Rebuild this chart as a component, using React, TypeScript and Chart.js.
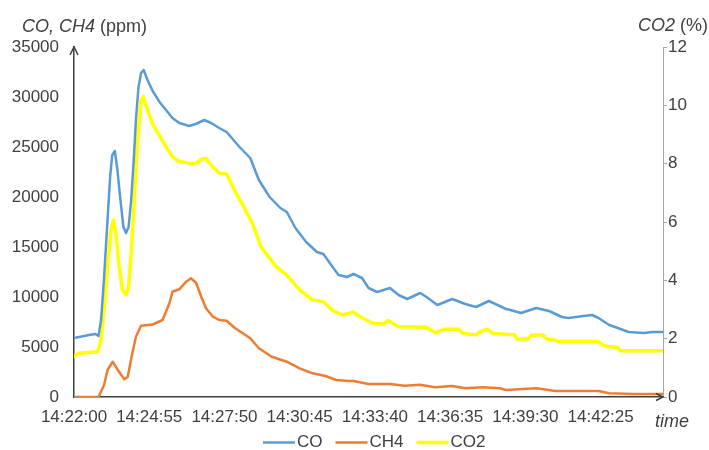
import React, { useEffect, useRef } from 'react';
import { Chart, registerables } from 'chart.js';

Chart.register(...registerables);

// X axis: seconds elapsed since 14:22:00
const xMax = 1370;
const xTickSeconds = [0, 175, 350, 525, 700, 875, 1050, 1225];
const xTickLabels = ['14:22:00', '14:24:55', '14:27:50', '14:30:45', '14:33:40', '14:36:35', '14:39:30', '14:42:25'];

const leftTicks = [0, 5000, 10000, 15000, 20000, 25000, 30000, 35000];
const rightTicks = [0, 2, 4, 6, 8, 10, 12];

// CO (ppm)
const coTime = [0, 35, 50, 57, 63, 70, 78, 84, 89, 95, 101, 108, 115, 121, 127, 133, 139, 144, 150, 156, 162, 171, 183, 199, 214, 229, 245, 268, 283, 303, 319, 338, 355, 385, 410, 430, 455, 480, 495, 515, 540, 565, 580, 595, 615, 635, 650, 670, 685, 705, 735, 755, 775, 805, 820, 845, 880, 910, 935, 965, 985, 1005, 1015, 1040, 1075, 1105, 1135, 1150, 1185, 1205, 1220, 1245, 1265, 1290, 1325, 1345, 1370];
const coValues = [5900, 6200, 6300, 6100, 7700, 12000, 17700, 22000, 24200, 24600, 22700, 19700, 17000, 16400, 17000, 19700, 23700, 27700, 31000, 32400, 32700, 31700, 30600, 29500, 28700, 27900, 27400, 27100, 27300, 27700, 27400, 26900, 26500, 25000, 23900, 21700, 20000, 18900, 18500, 16900, 15500, 14500, 14300, 13400, 12200, 12000, 12300, 11900, 10900, 10500, 10900, 10200, 9800, 10400, 10000, 9200, 9800, 9300, 9000, 9600, 9200, 8800, 8700, 8400, 8900, 8600, 8000, 7900, 8100, 8200, 7900, 7200, 6900, 6500, 6400, 6500, 6500];

// CH4 (ppm)
const ch4Time = [0, 57, 70, 78, 90, 102, 117, 125, 134, 144, 156, 183, 206, 222, 229, 245, 261, 272, 284, 296, 307, 323, 338, 355, 375, 410, 430, 460, 495, 525, 555, 585, 610, 640, 650, 685, 735, 770, 805, 840, 880, 910, 950, 990, 1005, 1035, 1075, 1120, 1220, 1245, 1300, 1370];
const ch4Values = [0, 0, 1200, 2700, 3530, 2700, 1770, 2030, 4030, 6030, 7130, 7250, 7700, 9370, 10530, 10770, 11530, 11870, 11430, 10030, 8870, 8030, 7700, 7630, 6870, 5870, 4870, 4030, 3530, 2870, 2370, 2100, 1700, 1600, 1600, 1300, 1300, 1130, 1230, 970, 1100, 870, 970, 870, 700, 770, 870, 600, 600, 370, 300, 300];

// CO2 (%)
const co2Time = [0, 10, 55, 63, 70, 78, 86, 92, 98, 105, 113, 121, 127, 133, 139, 144, 150, 156, 161, 171, 183, 198, 214, 229, 241, 268, 284, 296, 307, 319, 338, 355, 375, 395, 415, 435, 470, 495, 525, 555, 580, 600, 625, 640, 650, 665, 695, 720, 730, 755, 820, 840, 860, 895, 905, 935, 945, 960, 975, 1025, 1030, 1055, 1065, 1090, 1100, 1120, 1125, 1220, 1230, 1245, 1265, 1270, 1370];
const co2Values = [1.38, 1.5, 1.55, 1.95, 2.98, 4.47, 5.72, 6.07, 5.5, 4.47, 3.67, 3.5, 3.78, 4.93, 6.41, 7.78, 9.15, 10.18, 10.29, 9.84, 9.36, 8.98, 8.58, 8.24, 8.1, 8.01, 8.01, 8.15, 8.18, 7.95, 7.67, 7.65, 7.04, 6.52, 5.95, 5.15, 4.47, 4.18, 3.67, 3.33, 3.27, 2.98, 2.81, 2.87, 2.92, 2.75, 2.53, 2.5, 2.62, 2.41, 2.39, 2.2, 2.32, 2.32, 2.18, 2.13, 2.24, 2.32, 2.18, 2.13, 1.99, 1.99, 2.13, 2.13, 1.99, 1.95, 1.9, 1.9, 1.78, 1.72, 1.7, 1.59, 1.59];

const seriesNames = ['CO', 'CH4', 'CO2'];
const seriesColors = ['#5B9BD5', '#ED7D31', '#FFFF00'];
const seriesWidths = [2.5, 2.5, 3.5];

const FONT = '"Liberation Sans", Arial, sans-serif';
const TEXT = '#404040';

const pts = (t: number[], v: number[]) => t.map((x, i) => ({ x, y: v[i] }));

const decorPlugin = {
  id: 'decor',
  afterDraw(chart: any) {
    const { ctx, chartArea } = chart;
    const { left, right, top, bottom } = chartArea;
    ctx.save();
    // arrows
    ctx.strokeStyle = '#404040';
    ctx.lineWidth = 1.5;
    ctx.lineJoin = 'miter';
    ctx.beginPath();
    ctx.moveTo(left - 4, top + 8);
    ctx.lineTo(left, top);
    ctx.lineTo(left + 4, top + 8);
    ctx.stroke();
    ctx.beginPath();
    ctx.moveTo(right - 7, bottom - 3.5);
    ctx.lineTo(right, bottom);
    ctx.lineTo(right - 7, bottom + 3.5);
    ctx.stroke();

    // axis titles
    ctx.fillStyle = TEXT;
    ctx.textBaseline = 'middle';
    ctx.textAlign = 'left';
    ctx.font = 'italic 18px ' + FONT;
    ctx.fillText('CO, CH4', 22, 27);
    let w = ctx.measureText('CO, CH4').width;
    ctx.font = '18px ' + FONT;
    ctx.fillText(' (ppm)', 22 + w, 27);

    ctx.font = 'italic 18px ' + FONT;
    ctx.fillText('CO2', 638, 26);
    w = ctx.measureText('CO2').width;
    ctx.font = '18px ' + FONT;
    ctx.fillText(' (%)', 638 + w, 26);

    ctx.font = 'italic 18px ' + FONT;
    ctx.textBaseline = 'alphabetic';
    ctx.fillText('time', 655, 427);

    // legend
    ctx.font = '17px ' + FONT;
    ctx.textBaseline = 'middle';
    let x = 263;
    const y = 442.5;
    chart.data.datasets.forEach((ds: any) => {
      ctx.strokeStyle = ds.borderColor;
      ctx.lineWidth = ds.borderWidth;
      ctx.lineCap = 'butt';
      ctx.beginPath();
      ctx.moveTo(x, y);
      ctx.lineTo(x + 32, y);
      ctx.stroke();
      ctx.fillStyle = TEXT;
      ctx.fillText(ds.label, x + 34, y);
      x = x + 34 + ctx.measureText(ds.label).width + 13;
    });
    ctx.restore();
  },
};

export default function App() {
  const ref = useRef<HTMLCanvasElement>(null);
  useEffect(() => {
    if (!ref.current) return;
    Chart.defaults.font.family = FONT;
    Chart.defaults.color = TEXT;
    const chart = new Chart(ref.current, {
      type: 'line',
      data: {
        datasets: [
          { label: seriesNames[0], data: pts(coTime, coValues), borderColor: seriesColors[0], backgroundColor: seriesColors[0], borderWidth: seriesWidths[0], yAxisID: 'y' },
          { label: seriesNames[1], data: pts(ch4Time, ch4Values), borderColor: seriesColors[1], backgroundColor: seriesColors[1], borderWidth: seriesWidths[1], yAxisID: 'y' },
          { label: seriesNames[2], data: pts(co2Time, co2Values), borderColor: seriesColors[2], backgroundColor: seriesColors[2], borderWidth: seriesWidths[2], yAxisID: 'y1' },
        ],
      },
      options: {
        animation: false,
        responsive: false,
        maintainAspectRatio: false,
        layout: { padding: { top: 47, left: 0, right: 0, bottom: 0 } },
        elements: {
          point: { radius: 0, hoverRadius: 0 },
          line: { tension: 0, borderJoinStyle: 'round', borderCapStyle: 'round' },
        },
        plugins: { legend: { display: false }, tooltip: { enabled: false } },
        scales: {
          x: {
            type: 'linear',
            min: 0,
            max: xMax,
            grid: { display: false, drawTicks: false },
            border: { display: true, color: '#404040', width: 1.5 },
            ticks: {
              padding: 10,
              font: { size: 17 },
              color: TEXT,
              maxRotation: 0,
              autoSkip: false,
              callback: (v: any) => {
                const i = xTickSeconds.indexOf(Number(v));
                return i >= 0 ? xTickLabels[i] : '';
              },
            },
            afterBuildTicks: (s: any) => {
              s.ticks = xTickSeconds.map((value) => ({ value }));
            },
            afterFit: (s: any) => {
              s.height = 53;
            },
          },
          y: {
            position: 'left',
            min: 0,
            max: 35000,
            grid: { display: false, drawTicks: false },
            border: { display: true, color: '#404040', width: 1.5 },
            ticks: { padding: 15, font: { size: 17 }, color: TEXT, callback: (v: any) => String(v) },
            afterBuildTicks: (s: any) => {
              s.ticks = leftTicks.map((value) => ({ value }));
            },
            afterFit: (s: any) => {
              s.width = 74;
            },
          },
          y1: {
            position: 'right',
            min: 0,
            max: 12,
            grid: { display: true, drawOnChartArea: false, drawTicks: true, tickLength: 4, color: '#a6a6a6', lineWidth: 1 },
            border: { display: true, color: '#a6a6a6', width: 1 },
            ticks: { padding: 1, font: { size: 17 }, color: TEXT, callback: (v: any) => String(v) },
            afterBuildTicks: (s: any) => {
              s.ticks = rightTicks.map((value) => ({ value }));
            },
            afterFit: (s: any) => {
              s.width = 46;
            },
          },
        },
      },
      plugins: [decorPlugin],
    } as any);
    return () => chart.destroy();
  }, []);
  return (
    <div style={{ position: 'fixed', left: 0, top: 0, width: 709, height: 450, background: '#fff' }}>
      <canvas ref={ref} width={709} height={450} style={{ width: 709, height: 450, display: 'block' }} />
    </div>
  );
}
